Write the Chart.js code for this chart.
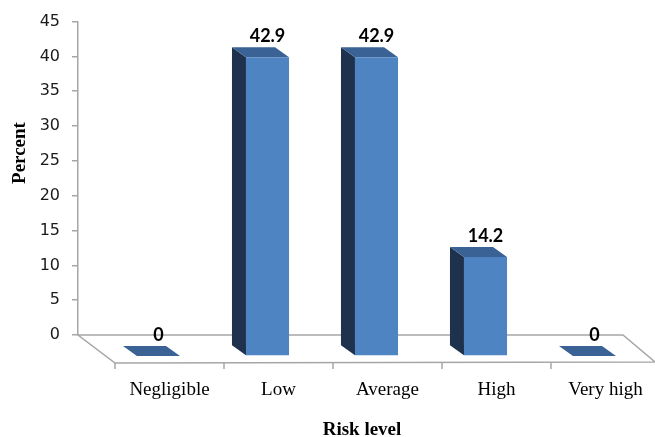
<!DOCTYPE html>
<html>
<head>
<meta charset="utf-8">
<script src="https://cdn.jsdelivr.net/npm/chart.js@4.4.0/dist/chart.umd.min.js"></script>
<style>
  html, body { margin: 0; padding: 0; background: #fff; }
  #wrap { width: 655px; height: 437px; }
</style>
</head>
<body>
<div id="wrap"><canvas id="chart"></canvas></div>
<script>
const riskLevels = ['Negligible', 'Low', 'Average', 'High', 'Very high'];
const percentValues = [0, 42.9, 42.9, 14.2, 0];
const valueLabels = ['0', '42.9', '42.9', '14.2', '0'];
const yMin = 0;
const yMax = 45;
const yStep = 5;

const frontColor = '#4f84c2';
const sideColor = '#1f324d';
const topColor = '#3a6295';
const floorColor = '#a6a6a6';

// bars sit in front of the back wall, this is the projection shift
const shift = { x: 26, y: 21 };
// going back into depth from the front face
const depth = { x: -14, y: -10 };

const bar3d = {
    id: 'bar3d',
    beforeDatasetsDraw(chart) {
        const ctx = chart.ctx;
        const a = chart.chartArea;
        const y0 = chart.scales.y.getPixelForValue(0);

        // floor
        ctx.save();
        ctx.strokeStyle = floorColor;
        ctx.lineWidth = 1.5;
        ctx.beginPath();
        ctx.moveTo(a.left, y0);
        ctx.lineTo(a.right, y0);
        ctx.lineTo(a.right + 32, y0 + 27);
        ctx.lineTo(a.left + 37, y0 + 28);
        ctx.closePath();
        ctx.stroke();
        const step = a.width / riskLevels.length;
        for (let i = 0; i <= riskLevels.length; i++) {
            const fx = a.left + i * step + 37;
            ctx.beginPath();
            ctx.moveTo(fx, y0 + 28);
            ctx.lineTo(fx, y0 + 34);
            ctx.stroke();
        }
        ctx.restore();

        // side and top faces, then the library draws the front faces in the same shifted frame
        ctx.save();
        ctx.translate(shift.x, shift.y);
        chart.getDatasetMeta(0).data.forEach(bar => {
            const p = bar.getProps(['x', 'y', 'base', 'width'], true);
            const l = p.x - p.width / 2;
            const r = p.x + p.width / 2;

            ctx.fillStyle = sideColor;
            ctx.beginPath();
            ctx.moveTo(l, p.y);
            ctx.lineTo(l + depth.x, p.y + depth.y);
            ctx.lineTo(l + depth.x, p.base + depth.y);
            ctx.lineTo(l, p.base);
            ctx.closePath();
            ctx.fill();

            ctx.fillStyle = topColor;
            ctx.beginPath();
            ctx.moveTo(l, p.y);
            ctx.lineTo(l + depth.x, p.y + depth.y);
            ctx.lineTo(r + depth.x, p.y + depth.y);
            ctx.lineTo(r, p.y);
            ctx.closePath();
            ctx.fill();
        });
    },
    afterDatasetsDraw(chart) {
        const ctx = chart.ctx;
        ctx.fillStyle = '#000';
        ctx.font = 'bold 18px Lato';
        ctx.textAlign = 'center';
        ctx.textBaseline = 'alphabetic';
        chart.getDatasetMeta(0).data.forEach((bar, i) => {
            const p = bar.getProps(['x', 'y'], true);
            ctx.fillText(valueLabels[i], p.x, p.y - 15);
        });
        ctx.restore();
    },
    afterDraw(chart) {
        const ctx = chart.ctx;
        ctx.save();
        ctx.fillStyle = '#000';
        ctx.font = 'bold 19px "Liberation Serif"';
        ctx.textAlign = 'center';
        ctx.textBaseline = 'middle';
        ctx.fillText('Risk level', 362, 430);
        ctx.translate(20, 153);
        ctx.rotate(-Math.PI / 2);
        ctx.fillText('Percent', 0, 0);
        ctx.restore();
    }
};

new Chart(document.getElementById('chart'), {
    type: 'bar',
    data: {
        labels: riskLevels,
        datasets: [{
            data: percentValues,
            backgroundColor: frontColor,
            borderWidth: 0,
            barPercentage: 0.395,
            categoryPercentage: 1,
            clip: false
        }]
    },
    options: {
        responsive: true,
        maintainAspectRatio: false,
        animation: false,
        layout: {
            padding: { top: 19, right: 32, left: 0, bottom: 0 }
        },
        plugins: {
            legend: { display: false },
            tooltip: { enabled: false }
        },
        scales: {
            x: {
                grid: { display: false },
                border: { display: false },
                ticks: {
                    color: '#000',
                    font: { family: 'Liberation Serif', size: 19 },
                    padding: 36,
                    labelOffset: 37,
                    maxRotation: 0,
                    autoSkip: false
                },
                afterFit: function(scale) {
                    scale.height = 102;
                }
            },
            y: {
                min: yMin,
                max: yMax,
                ticks: {
                    stepSize: yStep,
                    color: '#1a1a1a',
                    font: { family: 'DejaVu Sans', size: 16 },
                    padding: 12
                },
                grid: {
                    drawOnChartArea: false,
                    tickLength: 6,
                    color: floorColor,
                    lineWidth: 1.5
                },
                border: { color: floorColor, width: 1.5 },
                afterFit: function(scale) {
                    scale.width = 78;
                }
            }
        }
    },
    plugins: [bar3d]
});
</script>
</body>
</html>
